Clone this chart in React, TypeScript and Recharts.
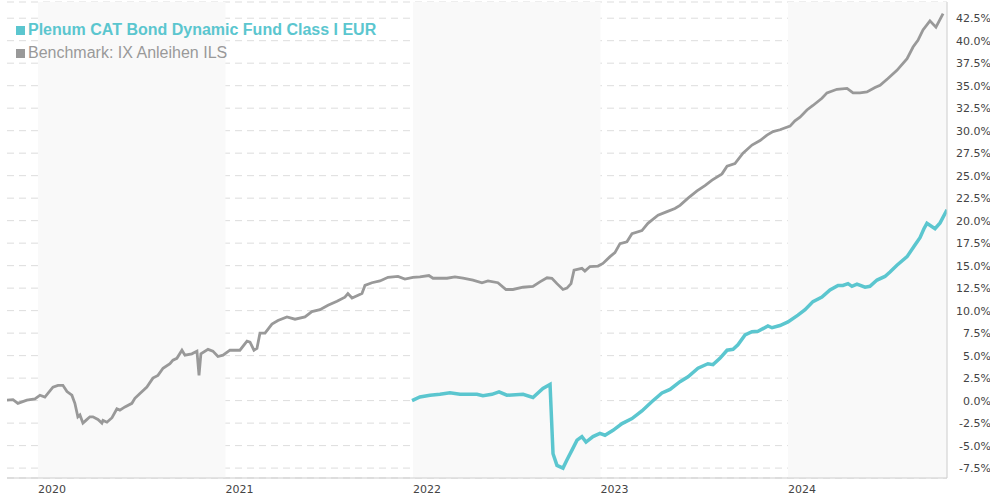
import { LineChart, Line, XAxis, YAxis, CartesianGrid, ReferenceArea } from 'recharts';

// decimal years, values in %
const benchmarkDates = [
  2019.835, 2019.867, 2019.893, 2019.941, 2019.984, 2020.011, 2020.037, 2020.08, 2020.107, 2020.133,
  2020.155, 2020.181, 2020.197, 2020.213, 2020.224, 2020.24, 2020.256, 2020.277, 2020.293, 2020.32,
  2020.341, 2020.347, 2020.368, 2020.395, 2020.421, 2020.437, 2020.464, 2020.501, 2020.517, 2020.544,
  2020.581, 2020.613, 2020.64, 2020.667, 2020.704, 2020.72, 2020.741, 2020.768, 2020.784, 2020.821,
  2020.848, 2020.859, 2020.869, 2020.907, 2020.933, 2020.96, 2020.987, 2021.024, 2021.077, 2021.115,
  2021.131, 2021.152, 2021.168, 2021.184, 2021.211, 2021.248, 2021.28, 2021.328, 2021.371, 2021.424,
  2021.461, 2021.504, 2021.547, 2021.595, 2021.637, 2021.653, 2021.675, 2021.728, 2021.744, 2021.781,
  2021.824, 2021.867, 2021.92, 2021.957, 2022.0, 2022.037, 2022.085, 2022.107, 2022.181, 2022.224,
  2022.267, 2022.32, 2022.368, 2022.4, 2022.453, 2022.496, 2022.533, 2022.587, 2022.64, 2022.677,
  2022.715, 2022.741, 2022.768, 2022.8, 2022.821, 2022.843, 2022.859, 2022.901, 2022.917, 2022.944,
  2022.987, 2023.013, 2023.051, 2023.077, 2023.104, 2023.141, 2023.168, 2023.221, 2023.253, 2023.307,
  2023.355, 2023.397, 2023.424, 2023.467, 2023.515, 2023.557, 2023.595, 2023.648, 2023.675, 2023.717,
  2023.76, 2023.808, 2023.851, 2023.888, 2023.92, 2023.957, 2024.011, 2024.037, 2024.064, 2024.101,
  2024.133, 2024.181, 2024.208, 2024.261, 2024.315, 2024.347, 2024.384, 2024.421, 2024.464, 2024.491,
  2024.533, 2024.581, 2024.635, 2024.667, 2024.693, 2024.72, 2024.757, 2024.789, 2024.827,
];
const benchmarkValues = [
  0.05, 0.1, -0.3, 0.05, 0.2, 0.6, 0.4, 1.5, 1.7, 1.7,
  1.0, 0.6, -0.3, -1.8, -1.6, -2.5, -2.2, -1.8, -1.8, -2.1,
  -2.5, -2.2, -2.4, -1.9, -0.9, -1.05, -0.7, -0.3, 0.25, 0.8,
  1.5, 2.5, 2.8, 3.6, 4.1, 4.5, 4.7, 5.6, 5.05, 5.2,
  5.5, 2.8, 5.2, 5.7, 5.5, 4.9, 5.05, 5.6, 5.6, 6.6,
  6.5, 5.6, 5.8, 7.5, 7.5, 8.5, 8.9, 9.3, 9.05, 9.3,
  9.9, 10.1, 10.6, 11.05, 11.5, 11.9, 11.4, 11.9, 12.8, 13.1,
  13.3, 13.7, 13.8, 13.5, 13.7, 13.75, 13.9, 13.6, 13.6, 13.75,
  13.6, 13.4, 13.1, 13.3, 13.1, 12.35, 12.35, 12.6, 12.7, 13.2,
  13.65, 13.6, 13.0, 12.35, 12.5, 13.0, 14.5, 14.7, 14.4, 14.9,
  14.95, 15.25, 16.0, 16.45, 17.45, 17.65, 18.55, 18.9, 19.7, 20.6,
  21.0, 21.35, 21.7, 22.5, 23.3, 23.9, 24.5, 25.2, 26.05, 26.35,
  27.5, 28.4, 28.9, 29.5, 29.9, 30.1, 30.5, 31.1, 31.5, 32.3,
  32.8, 33.6, 34.2, 34.6, 34.7, 34.2, 34.2, 34.3, 34.8, 35.05,
  35.8, 36.7, 38.0, 39.3, 40.05, 41.2, 42.2, 41.5, 43.0,
];

const fundDates = [
  2021.995, 2022.037, 2022.091, 2022.144, 2022.197, 2022.251, 2022.341, 2022.373, 2022.421, 2022.459,
  2022.501, 2022.587, 2022.64, 2022.693, 2022.731, 2022.747, 2022.768, 2022.8, 2022.821, 2022.848,
  2022.875, 2022.901, 2022.923, 2022.96, 2022.997, 2023.024, 2023.067, 2023.115, 2023.168, 2023.221,
  2023.275, 2023.328, 2023.371, 2023.424, 2023.467, 2023.52, 2023.573, 2023.6, 2023.637, 2023.675,
  2023.707, 2023.733, 2023.771, 2023.808, 2023.84, 2023.893, 2023.915, 2023.957, 2024.0, 2024.053,
  2024.091, 2024.133, 2024.181, 2024.224, 2024.267, 2024.293, 2024.32, 2024.341, 2024.368, 2024.411,
  2024.437, 2024.475, 2024.517, 2024.544, 2024.581, 2024.635, 2024.677, 2024.704, 2024.725, 2024.741,
  2024.784, 2024.811, 2024.848,
];
const fundValues = [
  0.0, 0.4, 0.6, 0.7, 0.87, 0.7, 0.7, 0.55, 0.7, 0.98,
  0.6, 0.7, 0.35, 1.35, 1.8, -5.9, -7.2, -7.5, -6.6, -5.5,
  -4.4, -4.0, -4.6, -4.0, -3.65, -3.85, -3.3, -2.55, -2.0, -1.15,
  -0.1, 0.85, 1.25, 2.1, 2.65, 3.6, 4.1, 4.0, 4.7, 5.6,
  5.7, 6.2, 7.3, 7.65, 7.7, 8.3, 8.1, 8.35, 8.75, 9.5,
  10.1, 11.0, 11.5, 12.3, 12.8, 12.8, 13.0, 12.7, 12.95, 12.6,
  12.7, 13.4, 13.8, 14.3, 15.05, 16.0, 17.3, 18.1, 19.1, 19.7,
  19.1, 19.75, 21.2,
];

const seriesNames = ['Plenum CAT Bond Dynamic Fund Class I EUR', 'Benchmark: IX Anleihen ILS'];
const yearTicks = [2020, 2021, 2022, 2023, 2024];
const shadedYears = [2020, 2022, 2024];
const pctTicks = [-7.5, -5, -2.5, 0, 2.5, 5, 7.5, 10, 12.5, 15, 17.5, 20, 22.5, 25, 27.5, 30, 32.5, 35, 37.5, 40, 42.5];

const X_MIN = 2019.835;
const X_MAX = 2024.848;
const TEAL = '#5bc6cf';
const GREY = '#999999';

const benchmarkData = benchmarkDates.map((t, i) => ({ t, v: benchmarkValues[i] }));
const fundData = fundDates.map((t, i) => ({ t, v: fundValues[i] }));

const tickStyle = { fontFamily: '"DejaVu Sans", Verdana, sans-serif', fontSize: 11 };

const YTick = (p: any) => (
  <text x={p.x + 44} y={p.y + 4} textAnchor="end" style={tickStyle} fill="#444">
    {p.payload.value.toFixed(1)}%
  </text>
);

const XTick = (p: any) => (
  <text x={p.x} y={p.y + 15} textAnchor="start" style={tickStyle} fill="#444">
    {p.payload.value}
  </text>
);

export default function App() {
  const colors = [TEAL, GREY];
  return (
    <div style={{ position: 'absolute', left: 0, top: 0, width: 990, height: 500, background: '#fff' }}>
      <LineChart width={990} height={500} margin={{ top: 2, right: 0, bottom: 0, left: 7 }}>
        {shadedYears.map((y) => (
          <ReferenceArea
            key={y}
            x1={y}
            x2={Math.min(y + 1, X_MAX)}
            fill="#f9f9f9"
            fillOpacity={1}
            stroke="none"
          />
        ))}
        <CartesianGrid vertical={false} stroke="#dddddd" strokeDasharray="7 5" />
        <XAxis
          dataKey="t"
          type="number"
          domain={[X_MIN, X_MAX]}
          ticks={yearTicks}
          interval={0}
          allowDataOverflow
          height={22}
          tickLine={false}
          tickSize={0}
          tickMargin={0}
          axisLine={{ stroke: '#cccccc' }}
          tick={XTick}
        />
        <YAxis
          orientation="right"
          type="number"
          domain={[-8.6, 44.3]}
          ticks={pctTicks}
          interval={0}
          allowDataOverflow
          width={43}
          tickLine={false}
          tickSize={0}
          tickMargin={0}
          axisLine={{ stroke: '#cccccc' }}
          tick={YTick}
        />
        <Line
          data={benchmarkData}
          dataKey="v"
          stroke={GREY}
          strokeWidth={2.8}
          dot={false}
          type="linear"
          isAnimationActive={false}
        />
        <Line
          data={fundData}
          dataKey="v"
          stroke={TEAL}
          strokeWidth={3.5}
          dot={false}
          type="linear"
          isAnimationActive={false}
        />
      </LineChart>
      {seriesNames.map((name, i) => (
        <div
          key={name}
          style={{
            position: 'absolute',
            left: 16,
            top: 20 + i * 23,
            height: 20,
            lineHeight: '20px',
            fontFamily: '"Liberation Sans", Arial, sans-serif',
            fontSize: 16,
            fontWeight: i === 0 ? 'bold' : 'normal',
            color: colors[i],
            whiteSpace: 'nowrap',
          }}
        >
          <span style={{ display: 'inline-block', width: 9, height: 9, background: colors[i], marginRight: 3 }} />
          {name}
        </div>
      ))}
    </div>
  );
}
